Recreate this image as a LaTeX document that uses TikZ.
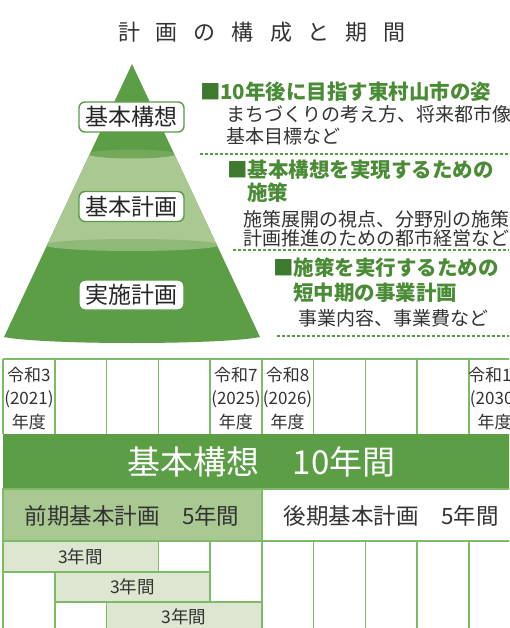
\documentclass[tikz,border=0pt]{standalone}
\usepackage{fontspec}
\setmainfont{Noto Sans CJK JP}
\definecolor{dgreen}{HTML}{5B9E46}
\definecolor{lgreen}{HTML}{A9C892}
\definecolor{pgreen}{HTML}{DCE6D0}
\definecolor{gridc}{HTML}{7DBB68}
\definecolor{hgreen}{HTML}{4A8C35}
\definecolor{sqgreen}{HTML}{3E7A2E}
\definecolor{dgray}{HTML}{333333}
\definecolor{midtop}{HTML}{74A85B}
\definecolor{midbot}{HTML}{8FB979}
\definecolor{boxgreen}{HTML}{5A9A48}
\newcommand\ttlsp{\hspace{16pt}}
\newcommand\sq{{\color{sqgreen}■}}
\begin{document}
\begin{tikzpicture}[x=1pt,y=-1pt,
  txt/.style={inner sep=0pt,outer sep=0pt},
  head/.style={txt,anchor=base west,font=\fontsize{20.5}{20.5}\selectfont\bfseries,text=hgreen},
  desc/.style={txt,anchor=base west,font=\fontsize{19}{19}\selectfont,text=dgray},
  lbox/.style={draw=boxgreen,line width=1.4pt,fill=white,rounded corners=6pt,minimum width=105pt,minimum height=30pt,inner sep=0pt,font=\fontsize{23}{23}\selectfont,text=black!85},
  yr/.style={txt,anchor=base,font=\fontsize{17}{17}\selectfont,text=dgray},
  gline/.style={draw=gridc,line width=1.5pt},
  dots/.style={draw=boxgreen,line width=1.4pt,dash pattern=on 3pt off 2pt},
  three/.style={txt,anchor=base,font=\fontsize{17.5}{17.5}\selectfont,text=dgray}
]
\useasboundingbox (0,0) rectangle (509,628);
\clip (0,0) rectangle (509,628);
\fill[white] (0,0) rectangle (509,628);

% title
\node[txt,anchor=base,font=\fontsize{22}{22}\selectfont,text=dgray] (title) at (262,41)
  {計\ttlsp 画\ttlsp の\ttlsp 構\ttlsp 成\ttlsp と\ttlsp 期\ttlsp 間};

% pyramid
\begin{scope}
  \clip (132,64) -- (260,337) .. controls (220,345) and (44,345) .. (4,337) -- cycle;
  \fill[dgreen] (0,60) rectangle (270,350);
  \fill[lgreen] (0,154) rectangle (270,246);
  \fill[midbot] (132,245) ellipse [x radius=87, y radius=6];
  \fill[midtop] (132,154) ellipse [x radius=44, y radius=4.5];
\end{scope}
\node[lbox] (k1) at (131.5,117) {基本構想};
\node[lbox] (k2) at (131.5,206.5) {基本計画};
\node[lbox] (k3) at (131.5,295) {実施計画};

% right texts
\node[head] (h1) at (200,99.6) {\sq 10年後に目指す東村山市の姿};
\node[desc] (d1a) at (226,122) {まちづくりの考え方、将来都市像};
\node[desc] (d1b) at (226,144) {基本目標など};
\coordinate (l1a) at (200,154); \coordinate (l1b) at (509,154);
\draw[dots] (l1a) -- (l1b);

\node[head] (h2) at (227,177.6) {\sq 基本構想を実現するための};
\node[head] (h2b) at (247,200.6) {施策};
\node[desc] (d2a) at (243,226) {施策展開の視点、分野別の施策、};
\node[desc] (d2b) at (243,245) {計画推進のための都市経営など};
\coordinate (l2a) at (233,250); \coordinate (l2b) at (509,250);
\draw[dots] (l2a) -- (l2b);

\node[head] (h3) at (273,275.6) {\sq 施策を実行するための};
\node[head] (h3b) at (293,300.6) {短中期の事業計画};
\node[desc] (d3a) at (298,325) {事業内容、事業費など};
\coordinate (l3a) at (277,336); \coordinate (l3b) at (509,336);
\draw[dots] (l3a) -- (l3b);

% table
\fill[dgreen] (3,434) rectangle (521,489);
\filldraw[fill=lgreen,gline] (3,489) rectangle (261.75,541);
\draw[gline] (261.75,489) rectangle (521,541);
\filldraw[fill=pgreen,gline] (3,541) rectangle (158.25,572);
\filldraw[fill=pgreen,gline] (54.75,572) rectangle (210,602);
\filldraw[fill=pgreen,gline] (106.5,602) rectangle (261.75,640);
\draw[gline] (3,359) -- (521,359);
\foreach \i in {0,...,10} {
  \draw[gline] ({3+51.75*\i},359) -- ({3+51.75*\i},434);
}
\draw[gline] (3,541) -- (3,640);
\draw[gline] (54.75,572) -- (54.75,640);
\draw[gline] (106.5,602) -- (106.5,640);
\draw[gline] (158.25,541) -- (158.25,572);
\draw[gline] (210,541) -- (210,602);
\draw[gline] (261.75,489) -- (261.75,640);
\foreach \i in {6,...,10} {
  \draw[gline] ({3+51.75*\i},541) -- ({3+51.75*\i},640);
}

% year labels
\node[yr] (y1a) at (28.9,381.3) {令和3};
\node[yr] (y1b) at (28.9,404.3) {(2021)};
\node[yr] (y1c) at (28.9,428.3) {年度};
\node[yr] (y5a) at (235.9,381.3) {令和7};
\node[yr] (y5b) at (235.9,404.3) {(2025)};
\node[yr] (y5c) at (235.9,428.3) {年度};
\node[yr] (y6a) at (287.6,381.3) {令和8};
\node[yr] (y6b) at (287.6,404.3) {(2026)};
\node[yr] (y6c) at (287.6,428.3) {年度};
\node[yr] (y10a) at (494.6,381.3) {令和12};
\node[yr] (y10b) at (494.6,404.3) {(2030)};
\node[yr] (y10c) at (494.6,428.3) {年度};

\node[txt,anchor=base,font=\fontsize{33}{33}\selectfont,text=white] (kk) at (261.5,474) {基本構想　10年間};
\node[txt,anchor=base,font=\fontsize{22.5}{22.5}\selectfont,text=dgray] (zk) at (132,524.3) {前期基本計画　5年間};
\node[txt,anchor=base,font=\fontsize{22.5}{22.5}\selectfont,text=dgray] (kok) at (391,524.3) {後期基本計画　5年間};
\node[three] (t1) at (80.6,563.5) {3年間};
\node[three] (t2) at (132.4,593.5) {3年間};
\node[three] (t3) at (184.1,623.5) {3年間};
\end{tikzpicture}
\end{document}
